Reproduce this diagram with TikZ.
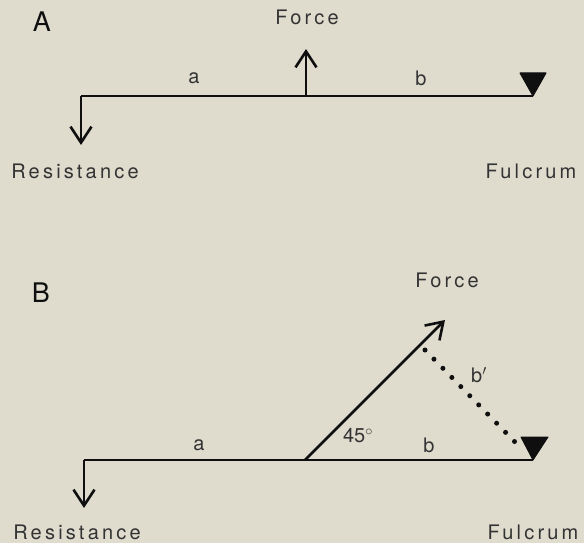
\documentclass[tikz,border=0pt]{standalone}
\usepackage{fontspec}
\setmainfont{TeX Gyre Heros}[LetterSpace=16]
\newfontfamily\bigfont{TeX Gyre Heros}
\usetikzlibrary{arrows.meta}
\definecolor{paper}{RGB}{223,220,206}
\definecolor{ink}{RGB}{15,15,15}
\tikzset{
  beam/.style={draw=ink, line width=2.6pt},
  force/.style={draw=ink, line width=2.6pt, -{Straight Barb[length=16pt,width=21pt,line width=2.6pt]}},
  lbl/.style={text=ink!85, font=\fontsize{20}{22}\selectfont, inner sep=0pt},
  tight/.style={text=ink!85, font=\bigfont\fontsize{20}{22}\selectfont, inner sep=0pt},
  panel/.style={text=ink, font=\bigfont\fontsize{27}{29}\selectfont, inner sep=0pt},
  fulc/.style={fill=ink, draw=ink, line width=1pt, line join=round},
  dots/.style={draw=ink, line width=5pt, line cap=round, dash pattern=on 0pt off 12.8pt}
}
\begin{document}
\begin{tikzpicture}[x=1pt,y=-1pt]
\fill[paper] (0,0) rectangle (584,543);
\useasboundingbox (0,0) rectangle (584,543);
% ---------- Panel A ----------
\node[panel] (A) at (42,22) {A};
\coordinate (aL) at (81,96);
\coordinate (aF) at (306,96);
\coordinate (aR) at (533,96);
\coordinate (aRes) at (81,145);
\coordinate (aFt) at (306,49);
\draw[beam] (aRes |- aL) -- (aR);
\draw[force] (aL) -- (aRes);
\draw[force] (aF) -- (aFt);
\filldraw[fulc] (520,73) -- (546,73) -- (aR) -- cycle;
\node[lbl] (aforce) at (307,17) {Force};
\node[tight] (aa) at (194,78) {a};
\node[tight] (ab) at (421,78) {b};
\node[lbl] (ares) at (75,171) {Resistance};
\node[lbl] (aful) at (531,171) {Fulcrum};
% ---------- Panel B ----------
\node[panel] (B) at (41,293) {B};
\coordinate (bL) at (84,460);
\coordinate (bF) at (305,460);
\coordinate (bR) at (533,460);
\coordinate (bRes) at (84,508);
\coordinate (bFt) at (445,320);
\coordinate (bD1) at (425,350);
\coordinate (bD2) at (515,442);
\draw[beam] (bL) -- (bR);
\draw[force] (bL) -- (bRes);
\draw[force] (bF) -- (bFt);
\draw[dots] (bD1) -- (bD2);
\filldraw[fulc] (521,437) -- (548,437) -- (bR) -- cycle;
\node[lbl] (bforce) at (447,280) {Force};
\node[tight] (ba) at (199,445) {a};
\node[tight] (bb) at (429,445) {b};
\node[tight] (bbp) at (479,375) {b$'$};
\node[tight] (b45) at (358,436) {45$^{\circ}$};
\node[lbl] (bres) at (77,532) {Resistance};
\node[lbl] (bful) at (533,532) {Fulcrum};
\end{tikzpicture}
\end{document}
